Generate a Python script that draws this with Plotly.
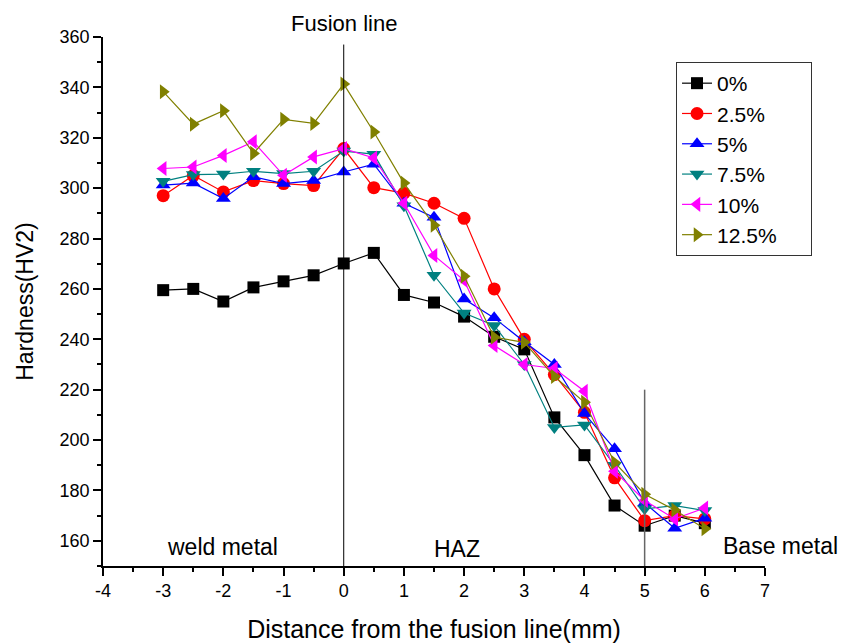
import plotly.graph_objects as go

x = [-3, -2.5, -2, -1.5, -1, -0.5, 0, 0.5, 1, 1.5, 2, 2.5, 3, 3.5, 4, 4.5, 5, 5.5, 6]
xtick_vals = [-4, -3, -2, -1, 0, 1, 2, 3, 4, 5, 6, 7]
xtick_text = ["-4", "-3", "-2", "-1", "0", "1", "2", "3", "4", "5", "6", "7"]

labels = ["0%", "2.5%", "5%", "7.5%", "10%", "12.5%"]
h0 = [259.5, 260, 255, 260.6, 263, 265.4, 270.1, 274.3, 257.6, 254.6, 249, 241, 236, 209, 194, 174, 166, 170, 167]
h25 = [297, 305, 298.5, 303, 301.8, 301, 315.7, 300.2, 298, 294, 288, 260, 240, 226, 211, 185, 168, 170, 168.7]
h5 = [301.2, 302, 295.9, 304.5, 301.8, 303, 306.4, 309.5, 294, 288.4, 256, 248.5, 239, 230, 210.5, 196.5, 175, 165, 169]
h75 = [302.7, 305.4, 305.6, 306.7, 305.8, 306.7, 314.7, 313.5, 293, 265.4, 250.4, 245.5, 230, 205, 206, 190, 172.7, 174, 172]
h10 = [307.8, 308.4, 313, 318.4, 305.1, 312.4, 315.7, 312, 294, 273.3, 263.4, 237.5, 230, 228.4, 219.4, 187.6, 176, 168.7, 173]
h125 = [338.3, 325.4, 330.7, 313.8, 327.3, 325.7, 341.3, 322.3, 302, 285.3, 265, 240.8, 238.8, 225.2, 215, 191.1, 178.5, 172.2, 164.8]

series = [h0, h25, h5, h75, h10, h125]
colors = ["#000000", "#ff0000", "#0000ff", "#008080", "#ff00ff", "#808000"]
symbols = ["square", "circle", "triangle-up", "triangle-down", "triangle-left", "triangle-right"]

pad = "\u00a0" * 5  # widen the legend box like the reference

fig = go.Figure()
for lab, ys, c, s in zip(labels, series, colors, symbols):
    fig.add_trace(go.Scatter(
        x=x, y=ys, name=lab + pad, mode="lines+markers",
        line=dict(color=c, width=1.2),
        marker=dict(symbol=s, size=13 if s != "square" else 12, color=c, line=dict(width=0)),
    ))

# reference lines
fig.add_shape(type="line", x0=0, x1=0, y0=150, y1=357, xref="x", yref="y",
              line=dict(color="black", width=1))
fig.add_shape(type="line", x0=5, x1=5, y0=150, y1=220, xref="x", yref="y",
              line=dict(color="#666666", width=1.5))

font = "Liberation Sans, Arial, sans-serif"
ann = [
    dict(x=0, y=1.0, xref="x", yref="paper", text="Fusion line", yanchor="bottom", yshift=0, size=22),
    dict(x=-2.02, y=157.5, xref="x", yref="y", text="weld metal", size=23),
    dict(x=1.88, y=156.8, xref="x", yref="y", text="HAZ", size=23),
    dict(x=1.023, y=158, xref="paper", yref="y", text="Base metal", size=23),
]
for a in ann:
    sz = a.pop("size")
    fig.add_annotation(showarrow=False, xanchor="center", borderpad=0,
                       font=dict(family=font, size=sz, color="black"), **a)

fig.update_layout(
    width=858, height=644,
    plot_bgcolor="white", paper_bgcolor="white",
    margin=dict(l=95, r=101, t=29, b=86),
    font=dict(family=font, size=18, color="black"),
    legend=dict(x=0.8656, y=0.9527, xanchor="left", yanchor="top",
                bordercolor="#333333", borderwidth=1, bgcolor="white",
                font=dict(family=font, size=21), tracegroupgap=0),
    showlegend=True,
)
fig.update_xaxes(range=[-4, 7], tickvals=xtick_vals, ticktext=xtick_text,
                 showgrid=False, zeroline=False, automargin=False,
                 showline=True, linecolor="black", linewidth=1.5,
                 ticks="outside", ticklen=8, tickwidth=1.5, tickcolor="black",
                 minor=dict(dtick=0.5, tick0=-4, ticks="outside", ticklen=4, tickcolor="black", tickwidth=1.5),
                 title=dict(text="Distance from the fusion line(mm)", font=dict(size=25), standoff=20))
fig.update_yaxes(range=[150, 360], dtick=20, tick0=160, showgrid=False, zeroline=False, automargin=False,
                 showline=True, linecolor="black", linewidth=1.5,
                 ticks="outside", ticklen=8, tickwidth=1.5, tickcolor="black",
                 minor=dict(dtick=10, tick0=150, ticks="outside", ticklen=4, tickcolor="black", tickwidth=1.5),
                 title=dict(text="Hardness(HV2)", font=dict(size=23), standoff=20))

fig.write_html("out.html")
